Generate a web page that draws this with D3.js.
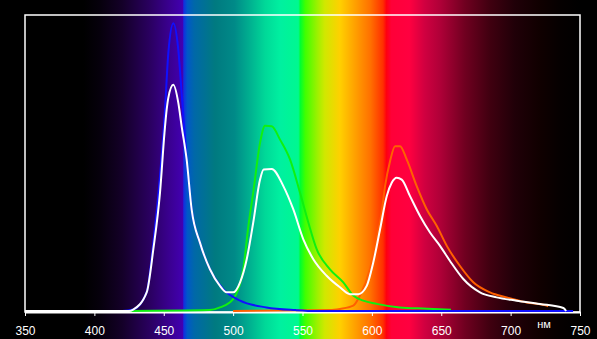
<!DOCTYPE html>
<html lang="ru">
<head>
  <meta charset="UTF-8">
  <title>Spectrum</title>
  <script src="https://d3js.org/d3.v7.min.js"></script>
  <style>
    body { margin: 0; background: #000; }
    svg { display: block; }
    .tick-label { font-family: "Liberation Sans", Arial, sans-serif; font-size: 12px; fill: #fff; }
  </style>
</head>
<body>
  <svg width="597" height="339"></svg>
  <script>
    // wavelength ticks, nm
    const ticks = [350, 400, 450, 500, 550, 600, 650, 700, 750];
    const unitLabel = "нм";

    // relative intensity, [nm, value]
    const blue = [[380,0],[420,0],[428,0.005],[437.7,0.064],[442.5,0.231],[447.3,0.456],[450.9,0.68],[453.3,0.871],
      [456.9,0.972],[460.5,0.882],[462.9,0.736],[466.5,0.512],[470.1,0.343],[476.1,0.231],[483.3,0.141],
      [492.9,0.074],[505,0.035],[524,0.012],[545,0.003],[560,0],[745,0]];
    const green = [[425,0],[483,0.003],[490.5,0.012],[500,0.04],[507.3,0.141],[511,0.287],[514.5,0.40],[519.4,0.568],
      [523,0.626],[527.8,0.624],[533.8,0.579],[541,0.512],[548.2,0.40],[554.2,0.299],[560.2,0.209],[569.8,0.141],
      [579.4,0.097],[586.6,0.052],[593.8,0.035],[603.5,0.024],[620,0.012],[640,0.008],[657,0.004]];
    const orange = [[500,0],[570,0.003],[577,0.007],[586.6,0.018],[591.4,0.052],[598.6,0.141],[603.4,0.242],[607,0.332],
      [609.5,0.422],[613.1,0.506],[616.7,0.557],[620.3,0.557],[625.1,0.512],[632.3,0.422],[639.6,0.343],
      [646.8,0.287],[654,0.22],[663.5,0.152],[673.1,0.097],[685.1,0.063],[697.2,0.046],[711.6,0.029],[726,0.018],[727,0.015]];
    const white = [[350,0],[425,0],[428,0.005],[437.7,0.063],[442.5,0.209],[447.3,0.40],[450.5,0.6],[452.1,0.68],
      [453.3,0.72],[456.9,0.764],[460.5,0.703],[462.9,0.624],[466.5,0.512],[470.1,0.343],[476.1,0.231],
      [483.3,0.141],[490.5,0.085],[495.3,0.063],[500.1,0.063],[505,0.097],[509.8,0.175],[514.5,0.299],
      [519.4,0.444],[522,0.478],[527.8,0.48],[536.2,0.422],[543.4,0.343],[550.6,0.242],[557.8,0.175],
      [567.4,0.119],[577,0.080],[584.2,0.057],[590.2,0.057],[596.3,0.085],[601,0.164],[605.9,0.276],
      [610.7,0.388],[614.3,0.433],[617.9,0.45],[621.5,0.444],[627.5,0.388],[634.7,0.321],[641.9,0.265],
      [649.1,0.22],[656.3,0.169],[665.9,0.108],[677.9,0.063],[689.9,0.046],[704.3,0.035],[721.2,0.024],
      [738,0.01],[740,0]];

    // background spectrum colour stops, [nm, colour]
    const spectrum = [[392,"#000000"],[404,"#06000c"],[420,"#140028"],[440,"#2a0060"],[454,"#3a0090"],
      [463.5,"#4200b0"],[464.5,"#1030e0"],[467,"#0058c8"],[472,"#0068a8"],[487,"#007a80"],[501,"#008a88"],
      [512,"#00b090"],[523,"#00d898"],[534,"#00f0a0"],[547,"#00f890"],[548.5,"#00ff30"],[552,"#40ff00"],
      [561,"#a0f000"],[566,"#d0e800"],[577,"#ffd000"],[588,"#ffa000"],[599,"#ff7000"],[608,"#ff3000"],
      [610.5,"#ff0010"],[614,"#ff0038"],[627,"#ff0040"],[638,"#d00040"],[649,"#b00038"],[667,"#700020"],
      [685,"#400010"],[703,"#200008"],[721,"#100000"],[736,"#050000"],[750,"#000000"]];

    const svg = d3.select("svg"),
          W = +svg.attr("width"), H = +svg.attr("height");

    const x = d3.scaleLinear().domain([350, 750]).range([25, 580]);
    const y = d3.scaleLinear().domain([0, 1]).range([311, 15]);

    // spectrum background across the whole picture
    const grad = svg.append("defs").append("linearGradient")
      .attr("id", "spec")
      .attr("gradientUnits", "userSpaceOnUse")
      .attr("x1", 0).attr("x2", W).attr("y1", 0).attr("y2", 0);
    grad.selectAll("stop")
      .data(spectrum)
      .enter().append("stop")
        .attr("offset", d => x(d[0]) / W)
        .attr("stop-color", d => d[1]);

    svg.append("rect")
      .attr("width", W).attr("height", H)
      .attr("fill", "url(#spec)");

    // frame
    svg.append("rect")
      .attr("x", x(350)).attr("y", 15)
      .attr("width", x(750) - x(350)).attr("height", 312 - 15)
      .attr("fill", "none")
      .attr("stroke", "#fff")
      .attr("stroke-width", 1.5);

    // bottom axis
    const axis = svg.append("g")
      .attr("transform", "translate(0,312)")
      .call(d3.axisBottom(x).tickValues(ticks).tickSize(4).tickSizeOuter(0));
    axis.select(".domain").attr("stroke", "#fff").attr("stroke-width", 2);
    axis.selectAll(".tick line").attr("stroke", "#fff");
    axis.selectAll(".tick text")
      .attr("class", "tick-label")
      .attr("y", 0).attr("dy", null)
      .attr("transform", "translate(0,23)")
      .attr("font-family", null).attr("font-size", null);
    axis.attr("font-family", null).attr("font-size", null);

    svg.append("text")
      .attr("class", "tick-label")
      .attr("x", 544).attr("y", 327.5)
      .attr("text-anchor", "middle")
      .style("font-size", "11px")
      .text(unitLabel);

    const line = d3.line()
      .x(d => x(d[0]))
      .y(d => y(d[1]))
      .curve(d3.curveMonotoneX);

    const series = [
      {data: orange, color: "#ff6000"},
      {data: green, color: "#10f010"},
      {data: blue, color: "#1010ff"},
      {data: white, color: "#ffffff"}
    ];

    svg.selectAll("path.curve")
      .data(series)
      .enter().append("path")
        .attr("class", "curve")
        .attr("d", d => line(d.data))
        .attr("fill", "none")
        .attr("stroke", d => d.color)
        .attr("stroke-width", 2);
  </script>
</body>
</html>
